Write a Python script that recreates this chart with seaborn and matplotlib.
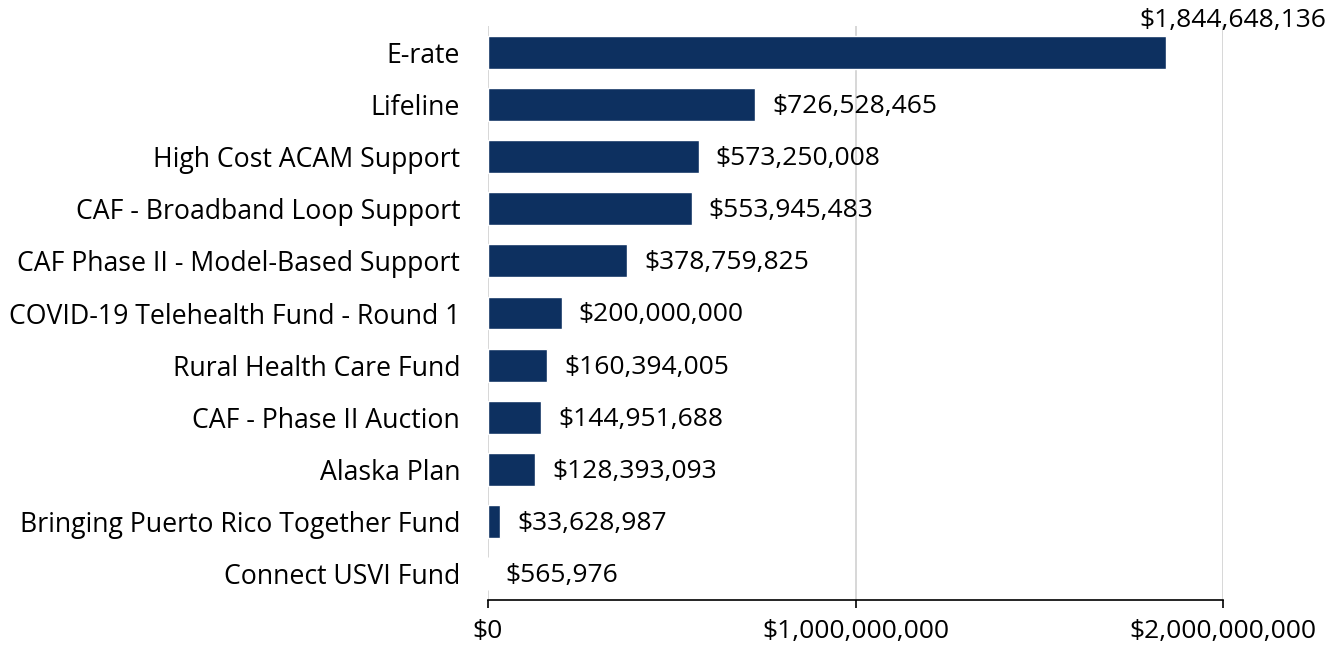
import numpy as np
import pandas as pd
import matplotlib.pyplot as plt
import seaborn as sns
from matplotlib.ticker import FuncFormatter

# Data
programs = [
    'E-rate', 'Lifeline', 'High Cost ACAM Support', 'CAF - Broadband Loop Support',
    'CAF Phase II - Model-Based Support', 'COVID-19 Telehealth Fund - Round 1',
    'Rural Health Care Fund', 'CAF - Phase II Auction', 'Alaska Plan',
    'Bringing Puerto Rico Together Fund', 'Connect USVI Fund',
]
amounts = [1844648136, 726528465, 573250008, 553945483, 378759825, 200000000,
           160394005, 144951688, 128393093, 33628987, 565976]
x_ticks = [0, 1000000000, 2000000000]

df = pd.DataFrame({'program': programs, 'amount': amounts})

sns.set_theme(style='white')
plt.rcParams['font.family'] = ['Open Sans', 'DejaVu Sans']
plt.rcParams['text.color'] = 'black'
plt.rcParams['xtick.color'] = 'black'
plt.rcParams['ytick.color'] = 'black'

fig = plt.figure(figsize=(13.38, 6.53), dpi=100)
ax = fig.add_axes([488 / 1338, 1 - 600 / 653, (1223 - 488) / 1338, (600 - 26) / 653])

sns.barplot(data=df, y='program', x='amount', orient='h', color='#0d3060',
            saturation=1, width=0.63, ax=ax)

ax.set_xlim(0, 2000000000)
ax.set_ylim(10.5, -0.5)
ax.set_xticks(x_ticks)
ax.xaxis.set_major_formatter(FuncFormatter(lambda v, p: f'${v:,.0f}'))
ax.grid(axis='x', color='#d4d4d4', linewidth=1.3)
ax.set_axisbelow(True)
ax.set_xlabel('')
ax.set_ylabel('')

for s in ['top', 'right', 'left']:
    ax.spines[s].set_visible(False)
ax.spines['bottom'].set_color('black')
ax.spines['bottom'].set_linewidth(1.2)

ax.tick_params(axis='x', bottom=True, direction='out', length=6, width=1.2,
               color='black', labelsize=19, pad=8)
ax.tick_params(axis='y', left=False, labelsize=19.2, pad=14)

for i, v in enumerate(amounts):
    if i == 0:
        ax.annotate(f'${v:,.0f}', xy=(v, i), xytext=(-27, 32),
                    textcoords='offset pixels', ha='left', va='center',
                    fontsize=19, annotation_clip=False)
    else:
        ax.annotate(f'${v:,.0f}', xy=(v, i), xytext=(17, -2),
                    textcoords='offset pixels', ha='left', va='center',
                    fontsize=19)

fig.savefig('out.png', dpi=100)
